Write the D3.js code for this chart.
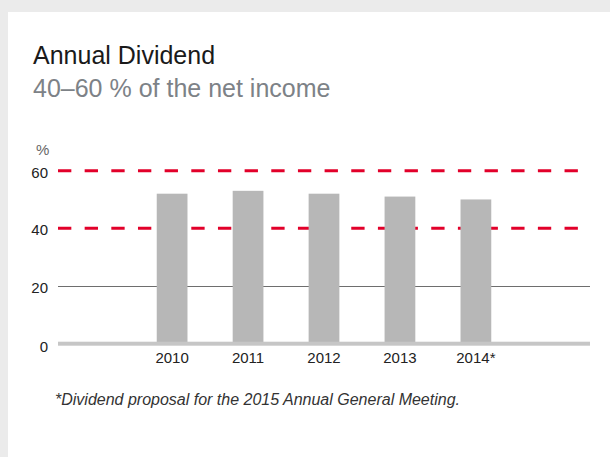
<!DOCTYPE html>
<html>
<head>
<meta charset="utf-8">
<script src="https://cdn.jsdelivr.net/npm/d3@7"></script>
<style>
  html, body { margin: 0; padding: 0; background: #ebebeb; }
  svg { display: block; }
  text { font-family: "Liberation Sans", Arial, Helvetica, sans-serif; }
</style>
</head>
<body>
<svg id="chart" width="610" height="457"></svg>
<script>
// ---- data ----
const categories = ["2010", "2011", "2012", "2013", "2014*"];
const dividendPct = [52, 53, 52, 51, 50];
const yTicks = [0, 20, 40, 60];
const targetRange = [40, 60];
const gridValues = [20];
const title = "Annual Dividend";
const subtitle = "40\u201360 % of the net income";
const unitLabel = "%";
const footnote = "*Dividend proposal for the 2015 Annual General Meeting.";

// ---- layout ----
const W = 610, H = 457;
const plot = { left: 58, right: 590, top: 170.7, bottom: 343.2 };

const svg = d3.select("#chart");

// background panel
svg.append("rect").attr("x", 0).attr("y", 0).attr("width", W).attr("height", H).attr("fill", "#ebebeb");
svg.append("rect").attr("x", 8).attr("y", 12).attr("width", W - 8).attr("height", H - 12).attr("fill", "#ffffff");

// titles
svg.append("text").attr("x", 33).attr("y", 64).attr("font-size", 25).attr("fill", "#1a1a1a").text(title);
svg.append("text").attr("x", 33).attr("y", 97).attr("font-size", 25).attr("fill", "#7d8287").text(subtitle);

// scales
const x = d3.scaleBand().domain(categories).range([plot.left, plot.right])
  .paddingInner(0.595).paddingOuter(1.3);
const y = d3.scaleLinear().domain([0, 60]).range([plot.bottom, plot.top]);

// unit label
svg.append("text").attr("x", 36).attr("y", 155).attr("font-size", 15).attr("fill", "#666").text(unitLabel);

// y tick labels
svg.append("g").selectAll("text").data(yTicks).join("text")
  .attr("x", 48)
  .attr("y", d => y(d) + (d === 0 ? 8.5 : 7))
  .attr("text-anchor", "end")
  .attr("font-size", 15)
  .attr("fill", "#222")
  .text(d => d);

// grid line(s)
svg.append("g").selectAll("line").data(gridValues).join("line")
  .attr("x1", plot.left).attr("x2", plot.right)
  .attr("y1", d => Math.round(y(d)) + 0.5).attr("y2", d => Math.round(y(d)) + 0.5)
  .attr("stroke", "#6e6e6e").attr("stroke-width", 1);

// target range dashed lines
svg.append("g").selectAll("line").data(targetRange).join("line")
  .attr("x1", plot.left).attr("x2", 578.3)
  .attr("y1", d => y(d)).attr("y2", d => y(d))
  .attr("stroke", "#e2002a").attr("stroke-width", 3)
  .attr("stroke-dasharray", "13.33,13.33");

// bars
svg.append("g").selectAll("rect").data(categories).join("rect")
  .attr("x", d => x(d))
  .attr("width", x.bandwidth())
  .attr("y", (d, i) => y(dividendPct[i]))
  .attr("height", (d, i) => (y(0) - 1.2) - y(dividendPct[i]))
  .attr("fill", "#b7b7b7");

// baseline axis
svg.append("rect")
  .attr("x", plot.left).attr("width", plot.right - plot.left)
  .attr("y", y(0) - 1.5).attr("height", 4)
  .attr("fill", "#c6c6c6");

// x labels
svg.append("g").selectAll("text").data(categories).join("text")
  .attr("x", d => x(d) + x.bandwidth() / 2)
  .attr("y", 363.3)
  .attr("text-anchor", "middle")
  .attr("font-size", 15)
  .attr("fill", "#222")
  .text(d => d);

// footnote
svg.append("text").attr("x", 55).attr("y", 405)
  .attr("font-size", 16).attr("font-style", "italic").attr("fill", "#333")
  .text(footnote);
</script>
</body>
</html>
